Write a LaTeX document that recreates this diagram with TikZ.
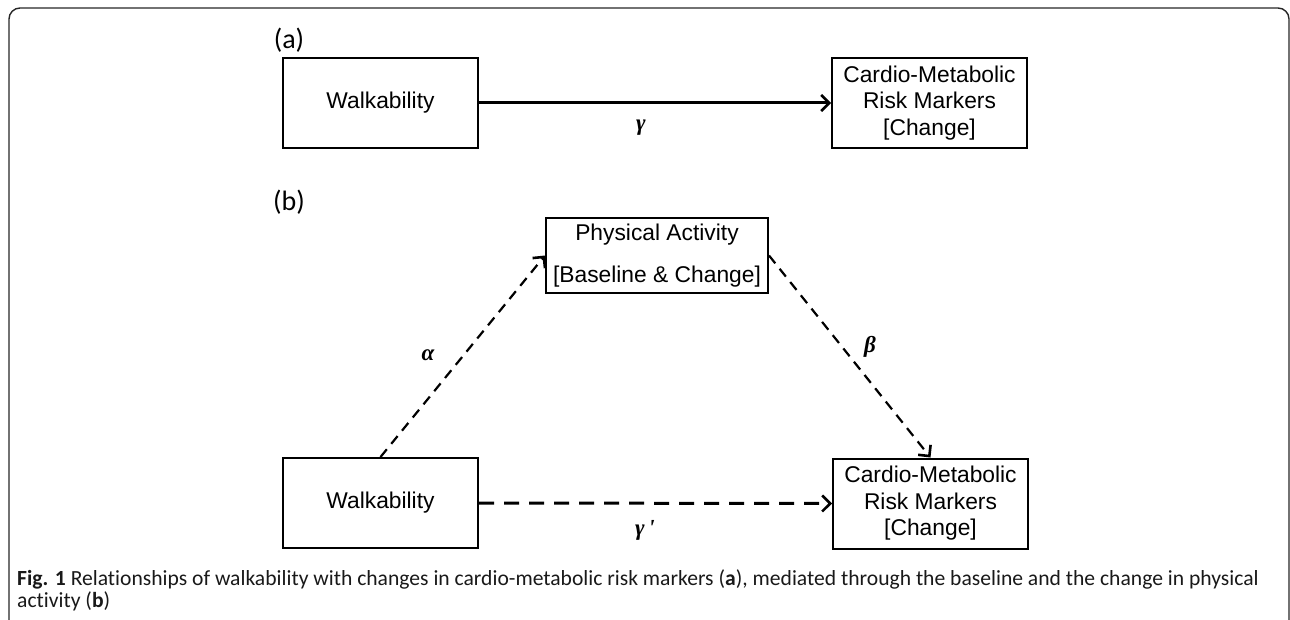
\documentclass[tikz,border=0pt]{standalone}
\usepackage{fontspec}
\setmainfont{Liberation Sans}
\newfontfamily\calib[Ligatures={NoCommon}]{Carlito}
\newfontfamily\grk{Liberation Serif}
\usetikzlibrary{arrows.meta}
\tikzset{
  box/.style={draw=black, line width=2pt, minimum width=195pt, minimum height=90pt, inner sep=0pt, align=center, font=\fontsize{22.8}{26.5}\selectfont},
  panel/.style={font=\calib\fontsize{28}{30}\selectfont, inner sep=0pt},
  glab/.style={font=\grk\bfseries\itshape\fontsize{23}{25}\selectfont, inner sep=0pt},
  tip/.style={-{Straight Barb[length=8pt,width=16pt,line width=2.6pt]}},
  solidarrow/.style={tip, line width=3pt},
  dasharrow/.style={tip, line width=2.2pt, dash pattern=on 10pt off 7pt},
  thickdash/.style={tip, line width=3pt, dash pattern=on 15pt off 10pt},
  captext/.style={font=\calib\fontsize{21.6}{23}\selectfont, inner sep=0pt, anchor=base west, text=black!90}
}
\begin{document}
\begin{tikzpicture}[x=1pt,y=-1pt]
\useasboundingbox (0,0) rectangle (1290,620);
% frame
\draw[line width=1.4pt, black!85, rounded corners=11pt] (9,640) -- (9,8) -- (1289,8) -- (1289,640);
% panel (a)
\node[panel] (la) at (289,40) {(a)};
\node[box] (walkA) at (380.5,103) {Walkability};
\node[box] (cardA) at (929.5,103) {Cardio-Metabolic\\Risk Markers\\{}[Change]};
\draw[solidarrow] (walkA.east) -- (cardA.west);
\node[glab] (g) at (641,128) {γ};
% panel (b)
\node[panel] (lb) at (289,202) {(b)};
\node[box, minimum width=222pt, minimum height=75pt, font=\fontsize{22.8}{42}\selectfont] (pa) at (657,255.5) {Physical Activity\\{}[Baseline \& Change]};
\node[box] (walkB) at (380.5,503) {Walkability};
\node[box] (cardB) at (930.5,503.5) {Cardio-Metabolic\\Risk Markers\\{}[Change]};
\draw[dasharrow] (walkB.north) -- (pa.west);
\draw[dasharrow] (pa.east) -- (cardB.north);
\draw[thickdash] (walkB.east) -- (cardB.west);
\node[glab] (al) at (428,355) {α};
\node[glab] (be) at (870,347) {β};
\node[glab] (gp) at (645,530) {γ\,\textquotesingle};
% caption
\node[captext] (c1) at (17,585) {\textbf{Fig. 1} Relationships of walkability with changes in cardio-metabolic risk markers (\textbf{a}), mediated through the baseline and the change in physical};
\node[captext] (c2) at (17,607) {activity (\textbf{b})};
\end{tikzpicture}
\end{document}
